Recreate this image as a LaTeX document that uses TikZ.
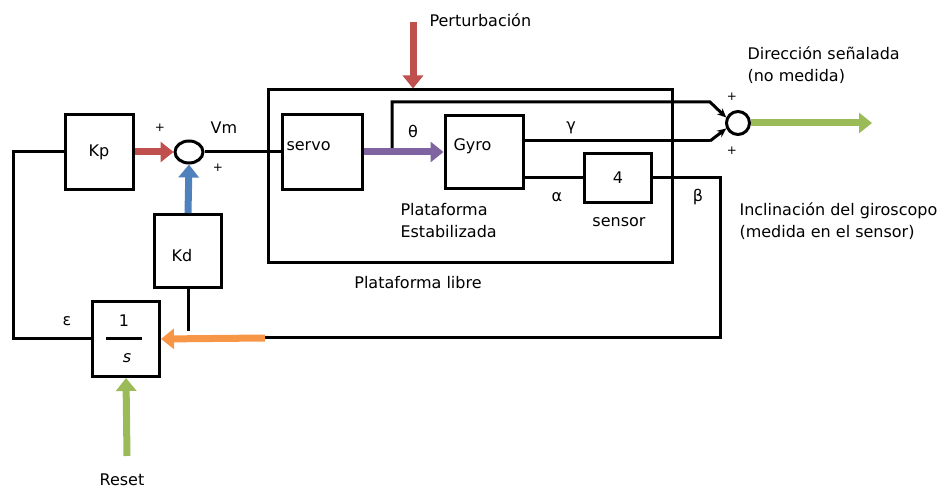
\documentclass[tikz,border=0pt]{standalone}
\usepackage{fontspec}
\setmainfont{DejaVu Sans}
\usetikzlibrary{arrows.meta,shapes.geometric}

\definecolor{rosso}{HTML}{C0504D}
\definecolor{blu}{HTML}{4F81BD}
\definecolor{viola}{HTML}{8064A2}
\definecolor{arancio}{HTML}{F79646}
\definecolor{verde}{HTML}{9BBB59}

\tikzset{
    filo/.style={line width=3pt},
    blocco/.style={draw, line width=3pt, minimum width=68pt, minimum height=75pt, inner sep=0pt},
    sommatore/.style={draw, line width=3pt, inner sep=0pt},
    freccia/.style={line width=7pt, -{Triangle[length=13pt,width=20pt]}},
    punta/.style={filo, -{Stealth[length=9pt,width=8pt]}},
    segno/.style={font=\fontsize{12}{14}\selectfont}
}

\begin{document}
\begin{tikzpicture}[x=1pt, y=-1pt, every node/.style={font=\fontsize{16}{18}\selectfont}]

    \useasboundingbox (0,0) rectangle (938,489);

    % Coordinate dei punti liberi delle linee
    \coordinate (fb)     at (13,152);
    \coordinate (theta)  at (392,152);
    \coordinate (th-ang) at (710,102);
    \coordinate (ga-in)  at (523,141);
    \coordinate (ga-ang) at (710,141);
    \coordinate (al-in)  at (523,178);
    \coordinate (be-ang) at (720,178);
    \coordinate (be-giu) at (720,338);
    \coordinate (ar-in)  at (265,338);
    \coordinate (kd-giu) at (188,331);
    \coordinate (pert)   at (413,22);
    \coordinate (res-in) at (127,456);
    \coordinate (uscita) at (872,123);

    % --- BLOCCHI ---
    \node[blocco] (kp) at (99,152) {Kp};
    \node[sommatore, ellipse, minimum width=28pt, minimum height=22pt] (sum1) at (189,152) {};
    \node[draw, line width=3pt, minimum width=404pt, minimum height=173pt] (libera) at (470,176.5) {};
    \node[blocco, minimum width=80pt] (servo) at (322,152) {};
    \node[anchor=west] (servo-t) at (283,146) {servo};
    \node[blocco, minimum width=78pt, minimum height=73pt] (gyro) at (484,152) {};
    \node[anchor=west] (gyro-t) at (450,146) {Gyro};
    \node[blocco, minimum width=67pt, minimum height=49pt] (sens) at (618,178) {4};
    \node[blocco, minimum width=67pt, minimum height=73pt] (kd) at (188,251) {};
    \node (kd-t) at (182,256) {Kd};
    \node[blocco, minimum width=67pt] (integ) at (126,339) {};
    \node (uno) at (124,321) {1};
    \node (esse) at (127,358) {\itshape s};
    \draw[filo] (106,339) -- (142,339);
    \node[sommatore, circle, minimum size=23pt] (sum2) at (738,123) {};

    % --- LINEE ---
    \draw[filo] (kp.west) -- (fb) |- (integ.west);
    \draw[filo] (sum1.east) -- (servo.west);
    \draw[punta] (theta) |- (th-ang) -- (sum2.155);
    \draw[filo] (ga-in) -- (ga-ang);
    \draw[punta] (ga-ang) -- (sum2.205);
    \draw[filo] (al-in) -- (sens.west);
    \draw[filo] (sens.east) -- (be-ang) -- (be-giu) -- (ar-in);
    \draw[filo] (kd.south) -- (kd-giu);

    % --- FRECCE COLORATE ---
    \draw[freccia, rosso] (kp.east) -- (sum1.west);
    \draw[freccia, blu] (kd.north) -- (sum1.south);
    \draw[freccia, viola] (servo.east) -- (gyro.west);
    \draw[freccia, arancio] (ar-in) -- (integ.east);
    \draw[freccia, verde] (res-in) -- (integ.south);
    \draw[freccia, rosso] (pert) -- (pert |- libera.north);
    \draw[freccia, verde] (sum2.east) -- (uscita);

    % --- ETICHETTE ---
    \node[segno] (piu1) at (160,128) {+};
    \node[segno] (piu2) at (218,168) {+};
    \node[segno] (piu3) at (732,97) {+};
    \node[segno] (piu4) at (732,151) {+};
    \node (vm) at (224,128) {Vm};
    \node (th-l) at (413,131) {θ};
    \node (ga-l) at (571,128) {γ};
    \node (al-l) at (557,197) {α};
    \node (be-l) at (698,197) {β};
    \node (ep-l) at (67,321) {ε};
    \node (libera-l) at (418,283) {Plataforma libre};
    \node[anchor=west, align=left] (stab-l) at (397,221) {Plataforma\\[4pt]Estabilizada};
    \node (sensor-l) at (619,222) {sensor};
    \node[anchor=west, align=left] (dir-l) at (744,65) {Dirección señalada\\[4pt](no medida)};
    \node[anchor=west, align=left] (incl-l) at (736,221) {Inclinación del giroscopo\\[4pt](medida en el sensor)};
    \node[anchor=west] (pert-l) at (426,20) {Perturbación};
    \node (reset) at (122,480) {Reset};

\end{tikzpicture}
\end{document}
